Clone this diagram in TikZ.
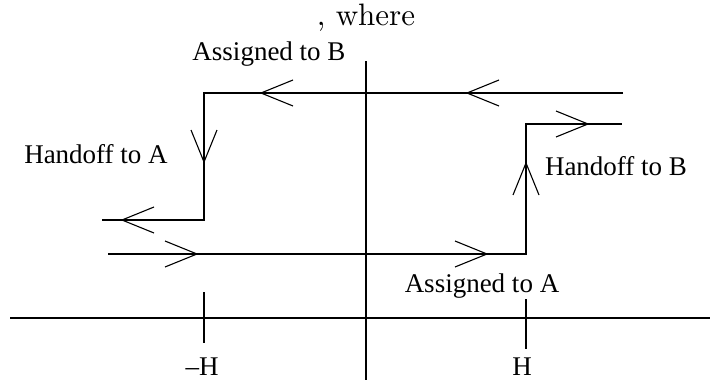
\documentclass[tikz,border=0pt]{standalone}
\usepackage{fontspec}
\newfontfamily\timesfont{Liberation Serif}
\newfontfamily\lmten{lmroman10-regular}[Extension=.otf]
\begin{document}
\begin{tikzpicture}[x=1pt,y=-1pt,
  line/.style={line width=1.1pt,black},
  lbl/.style={font=\timesfont\fontsize{27}{30}\selectfont,inner sep=0pt,anchor=base},
  openhead/.pic={\draw[line width=1.1pt] (-32,-13) -- (0,0) -- (-32,13);}]
\useasboundingbox (0,0) rectangle (710,380);
% axes
\coordinate (xl) at (10,318);
\coordinate (xr) at (710,318);
\coordinate (yt) at (366,61);
\coordinate (yb) at (366,380);
\draw[line] (xl) -- (xr);
\draw[line] (yt) -- (yb);
% ticks
\coordinate (tn1) at (204,292); \coordinate (tn2) at (204,343);
\coordinate (tp1) at (526,299); \coordinate (tp2) at (526,349);
\draw[line] (tn1) -- (tn2);
\draw[line] (tp1) -- (tp2);
% hysteresis loop
\coordinate (a1) at (623,93);
\coordinate (a2) at (204,93);
\coordinate (a3) at (204,220);
\coordinate (a4) at (102,220);
\coordinate (b1) at (108,254);
\coordinate (b2) at (526,254);
\coordinate (b3) at (526,124);
\coordinate (b4) at (622,124);
\draw[line] (a1) -- (a2) -- (a3) -- (a4);
\draw[line] (b1) -- (b2) -- (b3) -- (b4);
% arrowheads
\pic[rotate=180] at (261,93) {openhead};
\pic[rotate=180] at (467,93) {openhead};
\pic[rotate=-90] at (204,162) {openhead};
\pic[rotate=180] at (122,220) {openhead};
\pic at (197,254) {openhead};
\pic at (487,254) {openhead};
\pic[rotate=90] at (526,163) {openhead};
\pic at (588,124) {openhead};
% labels
\node[inner sep=0pt,anchor=base,font=\lmten\fontsize{31}{34}\selectfont] (where) at (366,25) {, where};
\node[lbl] (asgB) at (269,60) {Assigned to B};
\node[lbl] (hoA) at (96,163) {Handoff to A};
\node[lbl] (hoB) at (616,175) {Handoff to B};
\node[lbl] (asgA) at (482,292) {Assigned to A};
\node[lbl] (mH) at (202,375) {–H};
\node[lbl] (pH) at (522,375) {H};
\end{tikzpicture}
\end{document}
